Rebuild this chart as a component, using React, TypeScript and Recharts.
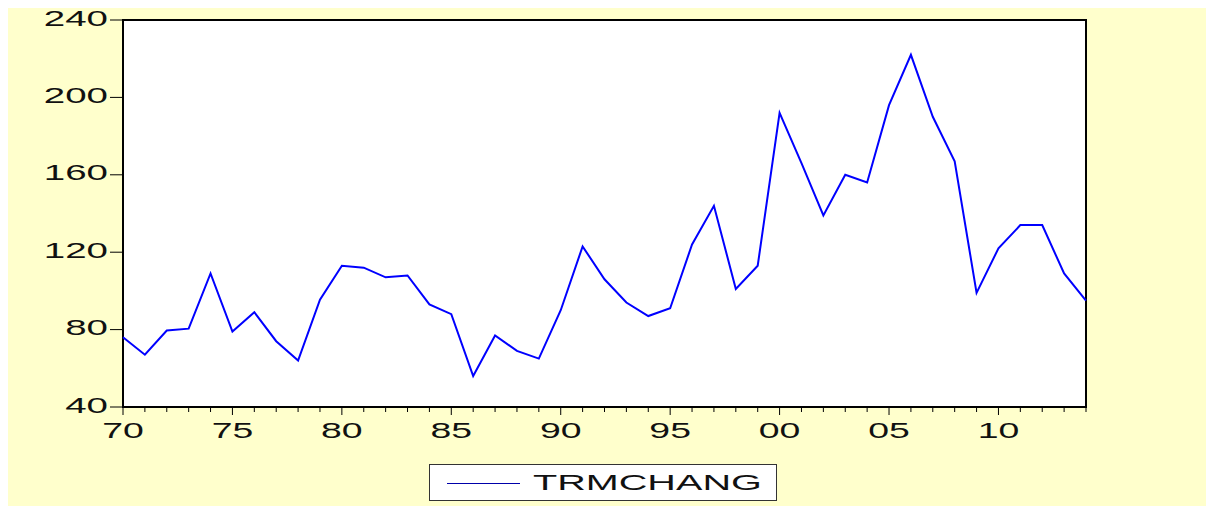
import React from 'react';
import { LineChart, Line, XAxis, YAxis, ReferenceArea, Legend } from 'recharts';

const years: number[] = [
  1970, 1971, 1972, 1973, 1974, 1975, 1976, 1977, 1978, 1979,
  1980, 1981, 1982, 1983, 1984, 1985, 1986, 1987, 1988, 1989,
  1990, 1991, 1992, 1993, 1994, 1995, 1996, 1997, 1998, 1999,
  2000, 2001, 2002, 2003, 2004, 2005, 2006, 2007, 2008, 2009,
  2010, 2011, 2012, 2013, 2014,
];
const trmchang: number[] = [
  76, 67, 79.5, 80.5, 109, 79, 89, 74, 64, 95.5,
  113, 112, 107, 108, 93, 88, 56, 77, 69, 65,
  90, 123, 106, 94, 87, 91, 124, 144, 101, 113,
  192, 166, 139, 160, 156, 196, 222, 190, 167, 99,
  122, 134, 134, 109, 95,
];
const yTicks: number[] = [40, 80, 120, 160, 200, 240];
const xTickYears: number[] = years;
const seriesName = 'TRMCHANG';

const data = years.map((y, i) => ({ year: y, value: trmchang[i] }));

const FONT = '"Liberation Sans", Arial, sans-serif';
const BG = '#FFFFCC';
const LINE = '#0000FF';

const YTick = (props: any) => {
  const { x, y, payload } = props;
  return (
    <g>
      <line x1={x - 13} y1={y} x2={x} y2={y} stroke="#000" strokeWidth={1} />
      <text
        transform={`translate(${x - 15},${y + 5.5}) scale(1.75,1)`}
        textAnchor="end"
        fontFamily={FONT}
        fontSize={22}
        fill="#111"
      >
        {payload.value}
      </text>
    </g>
  );
};

const XTick = (props: any) => {
  const { x, y, payload } = props;
  const yr: number = payload.value;
  const major = yr % 5 === 0;
  const label = String(yr % 100).padStart(2, '0');
  return (
    <g>
      <line x1={x} y1={y} x2={x} y2={y + (major ? 8 : 5)} stroke="#000" strokeWidth={1} />
      {major && (
        <text
          transform={`translate(${x},${y + 31}) scale(1.7,1)`}
          textAnchor="middle"
          fontFamily={FONT}
          fontSize={22}
          fill="#111"
        >
          {label}
        </text>
      )}
    </g>
  );
};

const LegendBox = () => (
  <div
    style={{
      width: 346,
      height: 35,
      border: '1px solid #333',
      background: '#fff',
      position: 'relative',
      boxSizing: 'content-box',
    }}
  >
    <div
      style={{
        position: 'absolute',
        left: 17,
        top: 18,
        width: 73,
        height: 0,
        borderTop: `1px solid ${'#0000AA'}`,
      }}
    />
    <span
      style={{
        position: 'absolute',
        left: 103,
        top: 5,
        fontFamily: FONT,
        fontSize: 22,
        lineHeight: '26px',
        color: '#111',
        transform: 'scaleX(1.8)',
        transformOrigin: 'left center',
        whiteSpace: 'nowrap',
      }}
    >
      {seriesName}
    </span>
  </div>
);

export default function App() {
  return (
    <div style={{ width: 1206, height: 500, marginTop: -2, background: BG, position: 'relative' }}>
      <LineChart
        width={1206}
        height={500}
        data={data}
        margin={{ top: 14, right: 128, bottom: 59, left: 0 }}
      >
        <ReferenceArea
          x1={1970}
          x2={2014}
          y1={40}
          y2={240}
          fill="#fff"
          fillOpacity={1}
          stroke="none"
          ifOverflow="visible"
        />
        <XAxis
          dataKey="year"
          type="number"
          domain={[1970, 2014]}
          ticks={xTickYears}
          interval={0}
          tickSize={0}
          tickMargin={0}
          tick={<XTick />}
          axisLine={false}
          height={40}
        />
        <YAxis
          type="number"
          domain={[40, 240]}
          ticks={yTicks}
          interval={0}
          tickSize={0}
          tickMargin={0}
          tick={<YTick />}
          axisLine={false}
          width={115}
        />
        <Line
          type="linear"
          dataKey="value"
          name={seriesName}
          stroke={LINE}
          strokeWidth={2}
          dot={false}
          isAnimationActive={false}
        />
        <ReferenceArea
          x1={1970}
          x2={2014}
          y1={40}
          y2={240}
          fill="none"
          stroke="#000"
          strokeWidth={2}
          ifOverflow="visible"
        />
        <Legend
          layout="horizontal"
          verticalAlign="middle"
          align="center"
          content={<LegendBox />}
          wrapperStyle={{ position: 'absolute', left: 421, top: 458, width: 348, height: 37, margin: 0 }}
        />
      </LineChart>
    </div>
  );
}
